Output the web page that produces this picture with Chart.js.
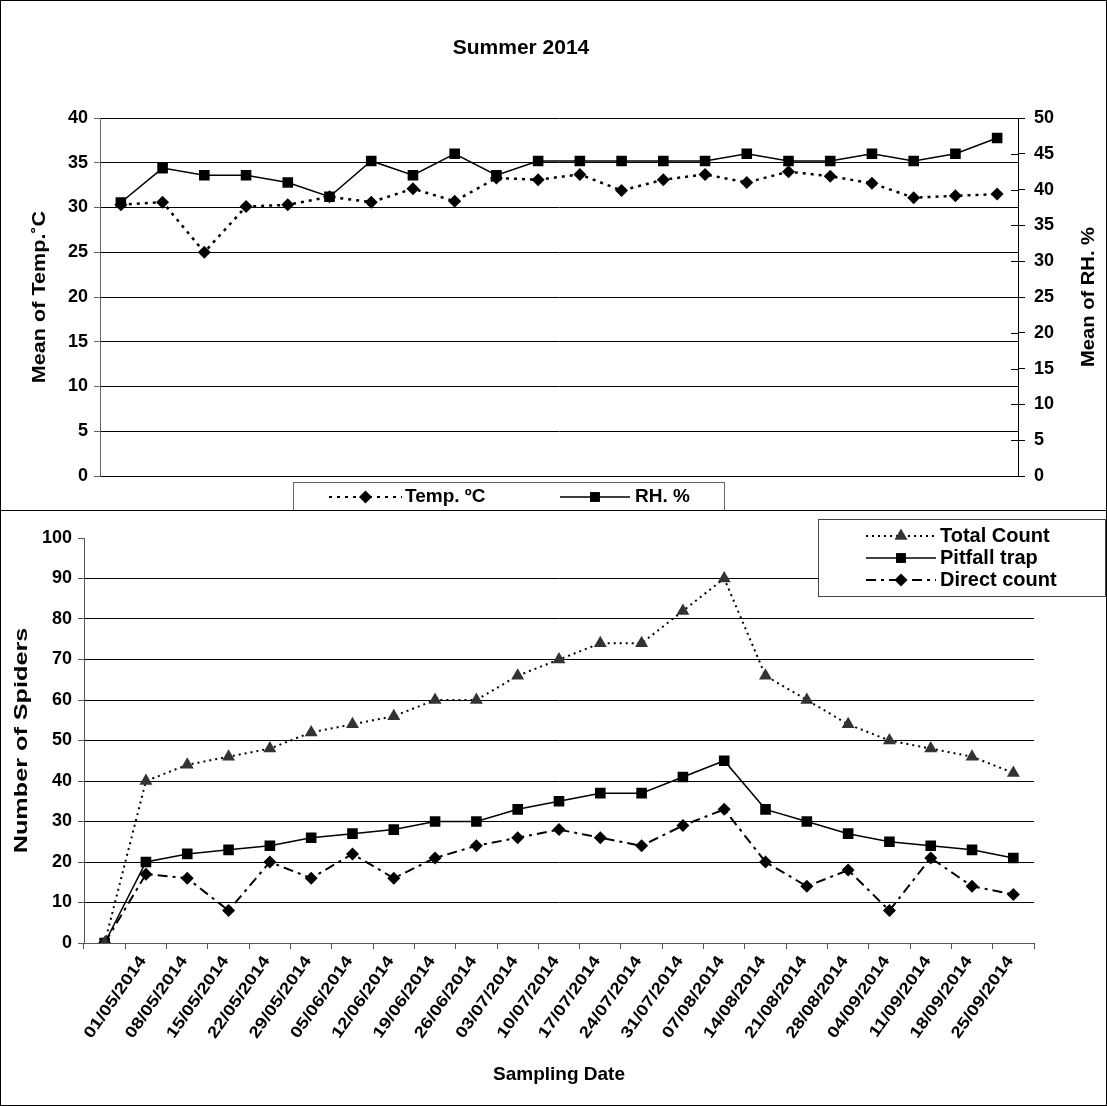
<!DOCTYPE html>
<html>
<head>
<meta charset="utf-8">
<script src="https://cdn.jsdelivr.net/npm/chart.js@4.4.1/dist/chart.umd.min.js"></script>
<style>
  html, body { margin: 0; padding: 0; background: #fff; }
  #page { position: relative; width: 1107px; height: 1106px; overflow: hidden; background: #fff; }
  #topWrap { position: absolute; left: 0; top: 0; width: 1107px; height: 510px; }
  #bottomWrap { position: absolute; left: 0; top: 510px; width: 1107px; height: 596px; }
  .frame { position: absolute; border: 1px solid #000; box-sizing: border-box; pointer-events: none; }
</style>
</head>
<body>
<div id="page">
  <div id="topWrap"><canvas id="climateChart" width="1107" height="510"></canvas></div>
  <div id="bottomWrap"><canvas id="spiderChart" width="1107" height="596"></canvas></div>
  <div class="frame" style="left:0;top:0;width:1107px;height:511px"></div>
  <div class="frame" style="left:0;top:510px;width:1107px;height:596px"></div>
</div>
<script>
// sampling dates (weekly, summer 2014)
const sampleDates = ["01/05/2014", "08/05/2014", "15/05/2014", "22/05/2014", "29/05/2014", "05/06/2014",
    "12/06/2014", "19/06/2014", "26/06/2014", "03/07/2014", "10/07/2014", "17/07/2014", "24/07/2014",
    "31/07/2014", "07/08/2014", "14/08/2014", "21/08/2014", "28/08/2014", "04/09/2014", "11/09/2014",
    "18/09/2014", "25/09/2014"];

// top chart: weather
const meanTemp = [30.3, 30.6, 25.0, 30.1, 30.3, 31.2, 30.6, 32.1, 30.7, 33.3, 33.1,
    33.7, 31.9, 33.1, 33.7, 32.8, 34.0, 33.5, 32.7, 31.1, 31.3, 31.5];
const meanRH = [38.2, 43, 42, 42, 41, 39, 44, 42, 45, 42, 44,
    44, 44, 44, 44, 45, 44, 44, 45, 44, 45, 47.2];
const tempTicks = { min: 0, max: 40, step: 5 };
const rhTicks = { min: 0, max: 50, step: 5 };

// bottom chart: spiders (first category is the empty start point)
const spiderLabels = [""].concat(sampleDates);
const totalCount = [0, 40, 44, 46, 48, 52, 54, 56, 60, 60, 66, 70, 74, 74, 82, 90, 66, 60, 54, 50, 48, 46, 42];
const pitfallTrap = [0, 20, 22, 23, 24, 26, 27, 28, 30, 30, 33, 35, 37, 37, 41, 45, 33, 30, 27, 25, 24, 23, 21];
const directCount = [0, 17, 16, 8, 20, 16, 22, 16, 21, 24, 26, 28, 26, 24, 29, 33, 20, 14, 18, 8, 21, 14, 12];
const spiderTicks = { min: 0, max: 100, step: 10 };

const FONT = "'Liberation Sans', Arial, Helvetica, sans-serif";
Chart.defaults.font.family = FONT;
Chart.defaults.color = "#000";

const dotted = [3, 5];
const dashDot = [10, 5, 3, 5];

// legend sample: line + marker
function drawSample(ctx, x1, x2, y, s) {
    ctx.save();
    ctx.strokeStyle = "#000";
    ctx.lineWidth = s.width;
    ctx.setLineDash(s.dash);
    ctx.beginPath();
    ctx.moveTo(x1, y);
    ctx.lineTo(x2, y);
    ctx.stroke();
    ctx.setLineDash([]);
    ctx.fillStyle = s.color;
    ctx.strokeStyle = s.color;
    Chart.helpers.drawPoint(ctx, { pointStyle: s.style, radius: s.radius, borderWidth: 0, rotation: 0 }, (x1 + x2) / 2, y);
    ctx.restore();
}

// vertical axis title, stretched along its length like the original
function drawVerticalTitle(ctx, text, cx, cy, size, stretch) {
    ctx.save();
    ctx.fillStyle = "#000";
    ctx.font = "bold " + size + "px " + FONT;
    ctx.textAlign = "center";
    ctx.textBaseline = "middle";
    ctx.translate(cx, cy);
    ctx.rotate(-Math.PI / 2);
    ctx.scale(stretch, 1);
    ctx.fillText(text, 0, 0);
    ctx.restore();
}

const topDecor = {
    id: "topDecor",
    afterDraw(chart) {
        const ctx = chart.ctx;
        const y1 = chart.scales.y1;
        const area = chart.chartArea;
        ctx.save();
        // inner half of the crossing ticks on the right axis
        ctx.strokeStyle = "#000";
        ctx.lineWidth = 1;
        y1.ticks.forEach(t => {
            const py = Math.round(y1.getPixelForValue(t.value)) + 0.5;
            ctx.beginPath();
            ctx.moveTo(y1.left - 7, py);
            ctx.lineTo(y1.left, py);
            ctx.stroke();
        });

        ctx.fillStyle = "#000";
        ctx.textAlign = "center";
        ctx.textBaseline = "middle";
        ctx.font = "bold 21px " + FONT;
        ctx.fillText("Summer 2014", 521, 48);
        ctx.restore();

        const midY = (area.top + area.bottom) / 2;
        drawVerticalTitle(ctx, "Mean of Temp.˚C", 40, midY, 18, 1.2);
        drawVerticalTitle(ctx, "Mean of RH. %", 1089, midY, 18, 1.12);

        // legend box
        ctx.save();
        ctx.fillStyle = "#fff";
        ctx.fillRect(293, 482, 431, 28);
        ctx.strokeStyle = "#666";
        ctx.lineWidth = 1;
        ctx.strokeRect(293.5, 482.5, 431, 30);
        drawSample(ctx, 329, 402, 497, { width: 2, dash: dotted, style: "rectRot", radius: 6.5, color: "#000" });
        drawSample(ctx, 560, 630, 497, { width: 1.5, dash: [], style: "rect", radius: 7, color: "#000" });
        ctx.fillStyle = "#000";
        ctx.font = "bold 19px " + FONT;
        ctx.textBaseline = "middle";
        ctx.textAlign = "left";
        ctx.fillText("Temp. ºC", 405, 497);
        ctx.fillText("RH. %", 635, 497);
        ctx.restore();
    }
};

new Chart(document.getElementById("climateChart"), {
    type: "line",
    data: {
        labels: sampleDates,
        datasets: [{
            label: "Temp. ºC",
            data: meanTemp,
            yAxisID: "y",
            borderColor: "#000",
            borderWidth: 2.5,
            borderDash: dotted,
            pointStyle: "rectRot",
            pointRadius: 6.5,
            pointBackgroundColor: "#000",
            pointBorderColor: "#000",
            pointBorderWidth: 0,
            order: 1
        }, {
            label: "RH. %",
            data: meanRH,
            yAxisID: "y1",
            borderColor: "#000",
            borderWidth: 1.5,
            pointStyle: "rect",
            pointRadius: 7.5,
            pointBackgroundColor: "#000",
            pointBorderColor: "#000",
            pointBorderWidth: 0,
            order: 0
        }]
    },
    options: {
        responsive: false,
        animation: false,
        layout: { padding: { top: 118, bottom: 34, left: 0, right: 0 } },
        plugins: { legend: { display: false }, tooltip: { enabled: false } },
        scales: {
            x: {
                offset: true,
                grid: { display: false },
                ticks: { display: false },
                border: { display: true, color: "#000" },
                afterFit: s => { s.height = 0; }
            },
            y: {
                min: tempTicks.min,
                max: tempTicks.max,
                ticks: { stepSize: tempTicks.step, padding: 6, font: { size: 18, weight: "bold" } },
                grid: { color: "#000", tickColor: "#666", tickLength: 6 },
                border: { color: "#666" },
                afterFit: s => { s.width = 100; }
            },
            y1: {
                position: "right",
                min: rhTicks.min,
                max: rhTicks.max,
                ticks: { stepSize: rhTicks.step, padding: 9, font: { size: 18, weight: "bold" } },
                grid: { drawOnChartArea: false, tickColor: "#000", tickLength: 7 },
                border: { color: "#000" },
                afterFit: s => { s.width = 89; }
            }
        }
    },
    plugins: [topDecor]
});

const bottomDecor = {
    id: "bottomDecor",
    afterDraw(chart) {
        const ctx = chart.ctx;
        const x = chart.scales.x;
        const area = chart.chartArea;

        // slanted date labels, end of text at the category
        ctx.save();
        ctx.fillStyle = "#000";
        ctx.font = "bold 16px " + FONT;
        ctx.textAlign = "right";
        ctx.textBaseline = "middle";
        spiderLabels.forEach((lab, i) => {
            if (!lab) return;
            const px = x.getPixelForValue(i);
            ctx.save();
            ctx.translate(px - 3, area.bottom + 15);
            ctx.rotate(-55 * Math.PI / 180);
            ctx.scale(1.2, 1);
            ctx.fillText(lab, 0, 0);
            ctx.restore();
        });
        ctx.restore();

        drawVerticalTitle(ctx, "Number of Spiders", 22, (area.top + area.bottom) / 2, 18, 1.4);

        // legend box
        ctx.save();
        ctx.fillStyle = "#fff";
        ctx.fillRect(818, 9, 287, 77);
        ctx.strokeStyle = "#444";
        ctx.lineWidth = 1;
        ctx.strokeRect(818.5, 9.5, 287, 77);
        const rows = [
            { text: "Total Count", y: 26, s: { width: 2, dash: [2, 4], style: "triangle", radius: 7.5, color: "#333" } },
            { text: "Pitfall trap", y: 48, s: { width: 1.5, dash: [], style: "rect", radius: 7, color: "#000" } },
            { text: "Direct count", y: 70, s: { width: 2, dash: dashDot, style: "rectRot", radius: 6.5, color: "#000" } }
        ];
        rows.forEach(r => {
            drawSample(ctx, 866, 936, r.y, r.s);
            ctx.fillStyle = "#000";
            ctx.font = "bold 20px " + FONT;
            ctx.textBaseline = "middle";
            ctx.textAlign = "left";
            ctx.fillText(r.text, 940, r.y);
        });
        ctx.restore();
    }
};

new Chart(document.getElementById("spiderChart"), {
    type: "line",
    data: {
        labels: spiderLabels,
        datasets: [{
            label: "Total Count",
            data: totalCount,
            borderColor: "#000",
            borderWidth: 2,
            borderDash: [2, 4],
            pointStyle: "triangle",
            pointRadius: 7.5,
            pointBackgroundColor: "#333",
            pointBorderColor: "#333",
            pointBorderWidth: 0
        }, {
            label: "Pitfall trap",
            data: pitfallTrap,
            borderColor: "#000",
            borderWidth: 1.5,
            pointStyle: "rect",
            pointRadius: 7.5,
            pointBackgroundColor: "#000",
            pointBorderColor: "#000",
            pointBorderWidth: 0
        }, {
            label: "Direct count",
            data: directCount,
            borderColor: "#000",
            borderWidth: 2,
            borderDash: dashDot,
            pointStyle: "rectRot",
            pointRadius: 6.5,
            pointBackgroundColor: "#000",
            pointBorderColor: "#000",
            pointBorderWidth: 0
        }]
    },
    options: {
        responsive: false,
        animation: false,
        layout: { padding: { top: 28, right: 73, left: 0, bottom: 0 } },
        plugins: { legend: { display: false }, tooltip: { enabled: false } },
        scales: {
            x: {
                offset: true,
                grid: { offset: true, drawOnChartArea: false, tickLength: 6, tickColor: "#555" },
                border: { color: "#555" },
                ticks: { display: false, autoSkip: false },
                title: {
                    display: true,
                    text: "Sampling Date",
                    font: { size: 19, weight: "bold" },
                    padding: { top: 0, bottom: 20 }
                },
                afterFit: s => { s.height = 163; }
            },
            y: {
                min: spiderTicks.min,
                max: spiderTicks.max,
                ticks: { stepSize: spiderTicks.step, padding: 6, font: { size: 18, weight: "bold" } },
                grid: {
                    color: c => (c.tick && c.tick.value === 100) ? "rgba(0,0,0,0)" : "#000",
                    tickColor: "#555",
                    tickLength: 6
                },
                border: { color: "#555" },
                afterFit: s => { s.width = 84; }
            }
        }
    },
    plugins: [bottomDecor]
});
</script>
</body>
</html>
